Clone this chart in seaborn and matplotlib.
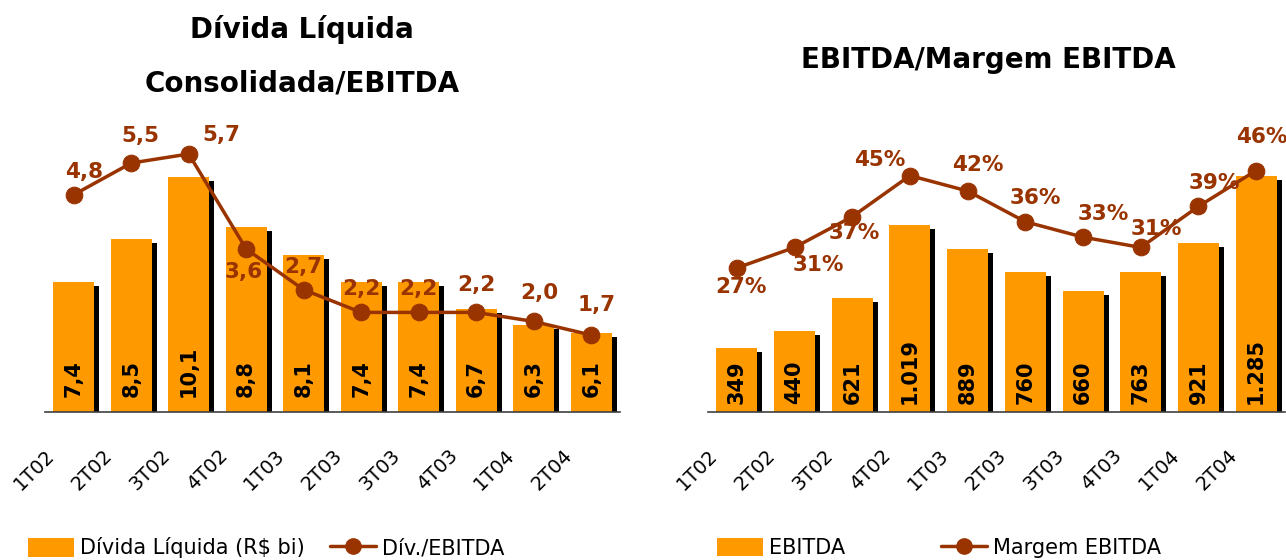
import matplotlib
matplotlib.use("Agg")
import matplotlib.pyplot as plt
from matplotlib.transforms import ScaledTranslation
from matplotlib.patches import Patch
from matplotlib.lines import Line2D
import numpy as np
import seaborn as sns

# data
quarters = ["1T02", "2T02", "3T02", "4T02", "1T03", "2T03", "3T03", "4T03", "1T04", "2T04"]
divida_liquida = [7.4, 8.5, 10.1, 8.8, 8.1, 7.4, 7.4, 6.7, 6.3, 6.1]       # R$ bi
div_ebitda = [4.8, 5.5, 5.7, 3.6, 2.7, 2.2, 2.2, 2.2, 2.0, 1.7]
ebitda = [349, 440, 621, 1019, 889, 760, 660, 763, 921, 1285]
margem_ebitda = [27, 31, 37, 45, 42, 36, 33, 31, 39, 46]                  # %

ORANGE = "#FF9900"
BROWN = "#993300"
AXIS = "#404040"

sns.set_style("white")
plt.rcParams["font.family"] = ["DejaVu Sans"]
plt.rcParams["text.color"] = "black"
plt.rcParams["xtick.color"] = "black"

fig = plt.figure(figsize=(12.86, 5.6), dpi=100)


def fmt_dec(v):
    return f"{v:.1f}".replace(".", ",")


def fmt_thousands(v):
    return f"{v:,}".replace(",", ".")


def panel(rect, bars, line, ylim1, ylim2, bar_labels, line_labels, offsets, bar_pad):
    ax = fig.add_axes(rect)
    # black drop shadow behind each bar
    sns.barplot(x=quarters, y=bars, color="black", width=0.71, ax=ax,
                saturation=1, linewidth=0)
    shift = ScaledTranslation(5 / 100, -4 / 100, fig.dpi_scale_trans)
    for p in ax.patches:
        p.set_transform(ax.transData + shift)
    sns.barplot(x=quarters, y=bars, color=ORANGE, width=0.71, ax=ax,
                saturation=1, linewidth=0)
    ax.set_ylim(*ylim1)
    ax.set_xlim(-0.5, len(quarters) - 0.5)
    ax.set_xlabel("")
    ax.set_ylabel("")
    ax.set_yticks([])
    for s in ["top", "left", "right"]:
        ax.spines[s].set_visible(False)
    ax.spines["bottom"].set_color(AXIS)
    ax.spines["bottom"].set_linewidth(1.2)
    ax.spines["bottom"].set_zorder(5)

    # ticks between categories, labels shifted left of the bar
    ax.set_xticks(np.arange(-0.5, len(quarters), 1), minor=True)
    ax.tick_params(axis="x", which="minor", length=16, direction="inout",
                   color=AXIS, width=1.2)
    ax.tick_params(axis="x", which="major", length=0, pad=24, labelsize=14,
                   labelcolor="black")
    lab_shift = ScaledTranslation(-15 / 100, 0, fig.dpi_scale_trans)
    for lab in ax.get_xticklabels():
        lab.set_rotation(45)
        lab.set_ha("right")
        lab.set_va("top")
        lab.set_transform(lab.get_transform() + lab_shift)

    # values inside bars
    for i, txt in enumerate(bar_labels):
        ax.annotate(txt, xy=(i, 0), xycoords=ax.get_xaxis_transform(),
                    xytext=(0, bar_pad), textcoords="offset points",
                    rotation=90, ha="center", va="bottom",
                    fontsize=15, fontweight="bold", color="black")

    ax2 = ax.twinx()
    sns.lineplot(x=np.arange(len(quarters)), y=line, color=BROWN, linewidth=2.5,
                 marker="o", markersize=12, markeredgecolor=BROWN, ax=ax2)
    ax2.set_ylim(*ylim2)
    ax2.set_xlim(-0.5, len(quarters) - 0.5)
    ax2.set_yticks([])
    ax2.set_ylabel("")
    for s in ["top", "left", "right", "bottom"]:
        ax2.spines[s].set_visible(False)
    for i, (txt, off) in enumerate(zip(line_labels, offsets)):
        ax2.annotate(txt, xy=(i, line[i]), xytext=(off[0] * 0.72, -off[1] * 0.72),
                     textcoords="offset points", ha="center", va="center",
                     fontsize=15.5, fontweight="bold", color=BROWN)
    return ax, ax2


left_offsets = [(10, -23), (9, -27), (33, -19), (-3, 23), (0, -23),
                (0, -23), (0, -23), (0, -27), (6, -28), (5, -30)]
right_offsets = [(4, 19), (24, 18), (2, 16), (-30, -16), (10, -26),
                 (10, -24), (20, -23), (16, -18), (16, -23), (6, -34)]

panel([45 / 1286, 148 / 560, 575 / 1286, 282 / 560],
      divida_liquida, div_ebitda, (4.06, 11.3), (0, 6.23),
      [fmt_dec(v) for v in divida_liquida], [fmt_dec(v) for v in div_ebitda],
      left_offsets, 11)

panel([708 / 1286, 148 / 560, 577 / 1286, 282 / 560],
      ebitda, margem_ebitda, (0, 1535), (-1.1, 53.9),
      [fmt_thousands(v) for v in ebitda], [f"{v}%" for v in margem_ebitda],
      right_offsets, 6)

# titles
fig.text(302 / 1286, 1 - 30 / 560, "Dívida Líquida", ha="center", va="center",
         fontsize=20, fontweight="bold")
fig.text(302 / 1286, 1 - 84 / 560, "Consolidada/EBITDA", ha="center", va="center",
         fontsize=20, fontweight="bold")
fig.text(988 / 1286, 1 - 60 / 560, "EBITDA/Margem EBITDA", ha="center", va="center",
         fontsize=20, fontweight="bold")

# legends
bar_h = Patch(facecolor=ORANGE, edgecolor="none")
line_h = Line2D([], [], color=BROWN, marker="o", markersize=11, linewidth=2.5)
fig.legend([bar_h, line_h], ["Dívida Líquida (R$ bi)", "Dív./EBITDA"],
           loc="center left", bbox_to_anchor=(28 / 1286, 1 - 548 / 560),
           ncol=2, frameon=False, fontsize=15, handlelength=2.2, handleheight=1.0,
           handletextpad=0.3, columnspacing=1.2, borderpad=0, borderaxespad=0)
fig.legend([bar_h, line_h], ["EBITDA", "Margem EBITDA"],
           loc="center left", bbox_to_anchor=(717 / 1286, 1 - 548 / 560),
           ncol=2, frameon=False, fontsize=15, handlelength=2.2, handleheight=1.0,
           handletextpad=0.3, columnspacing=4.6, borderpad=0, borderaxespad=0)

fig.savefig("out.png", dpi=100)
